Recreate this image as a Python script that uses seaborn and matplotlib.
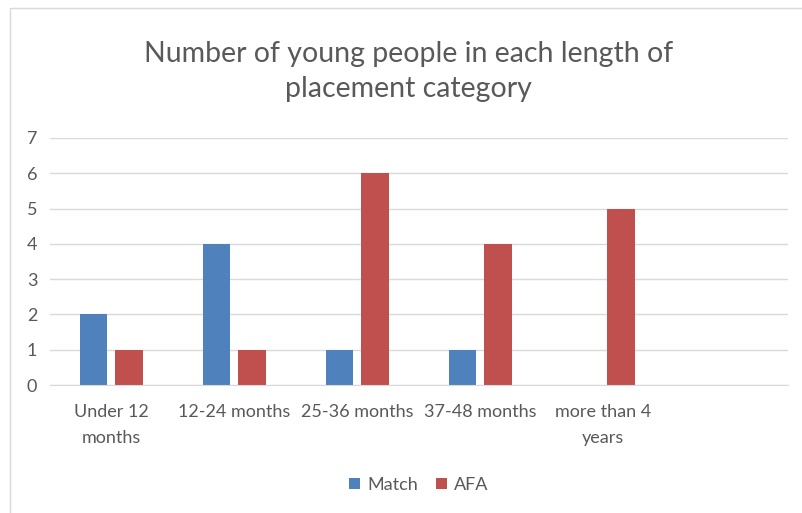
import seaborn as sns
import matplotlib.pyplot as plt
import pandas as pd
from matplotlib.patches import Rectangle

categories = ['Under 12\nmonths', '12-24 months', '25-36 months',
              '37-48 months', 'more than 4\nyears']
match_counts = [2, 4, 1, 1, 0]
afa_counts = [1, 1, 6, 4, 5]

df = pd.DataFrame({
    'category': categories * 2,
    'count': match_counts + afa_counts,
    'series': ['Match'] * len(categories) + ['AFA'] * len(categories),
})

sns.set_style('white')
plt.rcParams['font.family'] = ['Lato', 'DejaVu Sans']
grey = '#595959'

fig = plt.figure(figsize=(8.03, 5.13), dpi=100)
ax = fig.add_axes([0.062, 0.2495, 0.919, 0.4815])
sns.barplot(data=df, x='category', y='count', hue='series', order=categories,
            palette={'Match': '#4F81BD', 'AFA': '#C0504D'}, saturation=1,
            width=0.58, gap=0.22, linewidth=0, ax=ax)

ax.set_xlim(-0.5, 5.5)
ax.set_ylim(0, 7)
ax.set_yticks(range(8))
ax.yaxis.grid(True, color='#D9D9D9', linewidth=1)
ax.set_axisbelow(True)
for s in ['top', 'right', 'left']:
    ax.spines[s].set_visible(False)
ax.spines['bottom'].set_color('#D9D9D9')
ax.tick_params(axis='y', length=0, colors=grey, labelsize=13, pad=9)
ax.tick_params(axis='x', length=0, colors=grey, labelsize=13, pad=14)
for lbl in ax.get_xticklabels():
    lbl.set_linespacing(1.7)
ax.set_xlabel('')
ax.set_ylabel('')

fig.text(0.509, 0.861, 'Number of young people in each length of\nplacement category',
         ha='center', va='center', fontsize=20.5, color=grey, linespacing=1.45)

ax.legend(loc='center', bbox_to_anchor=(0.5, -0.405), ncol=2, frameon=False,
          fontsize=13, labelcolor=grey, handlelength=0.6, handleheight=0.6,
          columnspacing=1.0, handletextpad=0.4)

fig.patches.append(Rectangle((0.012, -0.1), 1.2, 1.085, transform=fig.transFigure,
                             fill=False, edgecolor='#D9D9D9', linewidth=1))

plt.savefig('out.png', dpi=100)
